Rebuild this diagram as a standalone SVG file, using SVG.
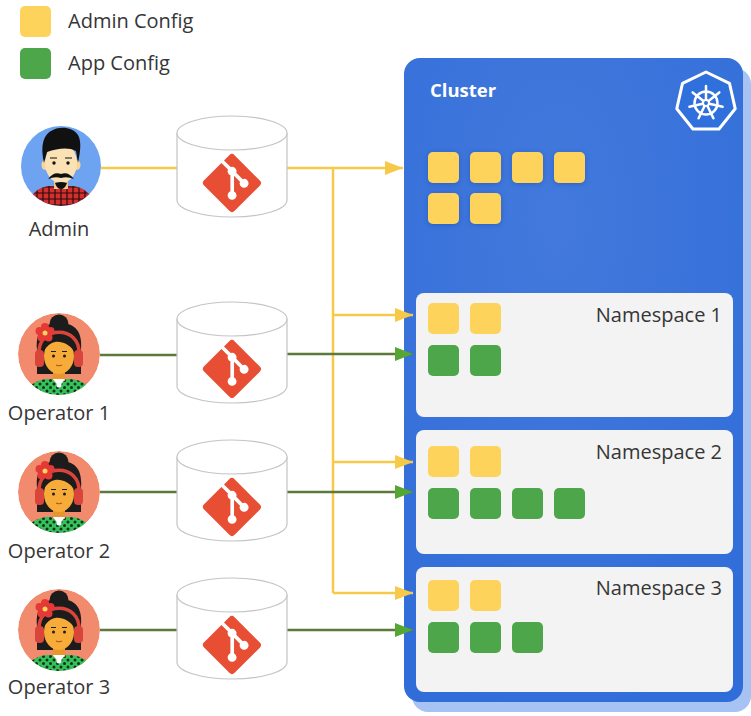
<svg xmlns="http://www.w3.org/2000/svg" width="751" height="716" viewBox="0 0 751 716">
  <style>
    .lbl { font-family: "Open Sans", "Liberation Sans", sans-serif; font-size: 20px; fill: #363636; }
    .title { font-family: "Open Sans", "Liberation Sans", sans-serif; font-size: 18.5px; font-weight: 700; fill: #ffffff; }
    .adm { fill: #fdd35c; }
    .app { fill: #4ea64a; }
    .ns { fill: #f4f3f3; }
    .cyl { fill: #ffffff; stroke: #c4c4c4; stroke-width: 1.2; }
    .git { fill: #e84e34; }
    .yl { stroke: #f7c948; stroke-width: 2.5; fill: none; }
    .gl { stroke: #5b7a3b; stroke-width: 2.5; fill: none; }
  </style>
  <defs>
    <marker id="arrY" markerUnits="userSpaceOnUse" markerWidth="18" markerHeight="14" refX="18" refY="7" orient="auto">
      <path d="M0,0 L18,7 L0,14 Z" fill="#f7c948"/>
    </marker>
    <marker id="arrG" markerUnits="userSpaceOnUse" markerWidth="18" markerHeight="14" refX="18" refY="7" orient="auto">
      <path d="M0,0 L18,7 L0,14 Z" fill="#56a636"/>
    </marker>
    <radialGradient id="clusterFill" cx="0.45" cy="0.25" r="0.8">
      <stop offset="0" stop-color="#4379dc"/>
      <stop offset="1" stop-color="#316dd9"/>
    </radialGradient>
    <filter id="soft" x="-30%" y="-30%" width="160%" height="160%">
      <feDropShadow dx="0" dy="1" stdDeviation="2.5" flood-color="#1c4fb0" flood-opacity="0.6"/>
    </filter>
    <pattern id="plaid" width="6" height="6" patternUnits="userSpaceOnUse">
      <rect width="6" height="6" fill="#d32f2f"/>
      <path d="M0,1 H6 M1,0 V6" stroke="#2a0b0b" stroke-width="1.2"/>
    </pattern>
    <pattern id="dots" width="7" height="7" patternUnits="userSpaceOnUse">
      <rect width="7" height="7" fill="#34c25a"/>
      <circle cx="2" cy="2" r="1.5" fill="#14301c"/>
      <circle cx="5.5" cy="5.5" r="1.5" fill="#14301c"/>
    </pattern>
    <clipPath id="opClip"><circle cx="0" cy="0" r="41"/></clipPath>
    <clipPath id="adminClip"><circle cx="61" cy="166" r="40"/></clipPath>
    <!-- git logo, 92x92 units -->
    <path id="gitMark" d="M90.156 41.965L50.036 1.848a5.918 5.918 0 0 0-8.372 0l-8.328 8.332 10.566 10.566a7.03 7.03 0 0 1 7.23 1.684 7.034 7.034 0 0 1 1.669 7.277l10.187 10.184a7.028 7.028 0 0 1 7.278 1.672 7.04 7.04 0 0 1 0 9.957 7.050 7.050 0 0 1-9.965 0 7.044 7.044 0 0 1-1.528-7.660l-9.5-9.497V59.36a7.04 7.04 0 0 1 1.86 11.29 7.04 7.04 0 0 1-9.957 0 7.04 7.04 0 0 1 0-9.958 7.06 7.06 0 0 1 2.304-1.539V33.926a7.049 7.049 0 0 1-3.82-9.234L29.242 14.272 1.73 41.777a5.925 5.925 0 0 0 0 8.371L41.852 90.27a5.925 5.925 0 0 0 8.37 0l39.934-39.934a5.925 5.925 0 0 0 0-8.371"/>
    <!-- repository cylinder with git mark, top at y=0 -->
    <g id="repo">
      <path class="cyl" d="M177,17 V84 A55,17 0 0 0 287,84 V17"/>
      <ellipse class="cyl" cx="232" cy="17" rx="55" ry="17"/>
      <use href="#gitMark" class="git" transform="translate(203,38) scale(0.63)"/>
    </g>
    <!-- operator avatar, centred on 0,0 -->
    <g id="operatorFace">
      <g clip-path="url(#opClip)">
        <circle cx="0" cy="0" r="41" fill="#f28a6d"/>
        <path d="M-22,-4 C-24,-26 -12,-31 0,-31 C13,-31 24,-26 22,-4 L22,20 L-22,20 Z" fill="#1c1c1c"/>
        <path d="M-38,48 Q-32,27 -12,25 L12,25 Q32,27 38,48 Z" fill="url(#dots)"/>
        <rect x="-6" y="13" width="12" height="14" fill="#e8952d"/>
        <path d="M-6,25 L0,33 L6,25 Z" fill="#ffffff"/>
        <circle cx="0" cy="31" r="2.5" fill="#ffffff"/>
      </g>
      <circle cx="0" cy="-30" r="9.5" fill="#1c1c1c"/>
      <ellipse cx="0" cy="2" rx="15" ry="18" fill="#f7ab38"/>
      <path d="M-16,-2 C-18,-19 -6,-23 6,-21 C14,-19 18,-11 16,-1 C11,-10 3,-13 -4,-12 C-9,-11 -13,-7 -16,-2 Z" fill="#1c1c1c"/>
      <path d="M-20,0 C-22,-29 22,-29 20,0" fill="none" stroke="#d9453a" stroke-width="3.5"/>
      <rect x="-24" y="-4" width="9" height="17" rx="4" fill="#d9453a"/>
      <rect x="15" y="-4" width="9" height="17" rx="4" fill="#d9453a"/>
      <g fill="#e53935">
        <circle cx="-14" cy="-27" r="4"/>
        <circle cx="-8.5" cy="-23" r="4"/>
        <circle cx="-10.5" cy="-16.5" r="4"/>
        <circle cx="-17.5" cy="-16.5" r="4"/>
        <circle cx="-19.5" cy="-23" r="4"/>
      </g>
      <circle cx="-14" cy="-21" r="2.5" fill="#fdd35c"/>
      <circle cx="-5.5" cy="2" r="1.5" fill="#1c1c1c"/>
      <circle cx="5.5" cy="2" r="1.5" fill="#1c1c1c"/>
      <path d="M-8,-2.5 H-3 M3,-2.5 H8" stroke="#1c1c1c" stroke-width="1"/>
      <path d="M-3,11 Q0,12.5 3,11" stroke="#a8551a" stroke-width="1.2" fill="none"/>
    </g>
  </defs>

  <!-- legend -->
  <g id="legend">
    <rect class="adm" x="20" y="6" width="31" height="31" rx="5"/>
    <text class="lbl" x="68" y="28">Admin Config</text>
    <rect class="app" x="20" y="48" width="31" height="31" rx="5"/>
    <text class="lbl" x="68" y="70">App Config</text>
  </g>

  <!-- cluster -->
  <g id="cluster">
    <rect x="412" y="68" width="339" height="644" rx="16" fill="#a6c3f3"/>
    <rect x="404" y="58" width="339" height="644" rx="16" fill="url(#clusterFill)"/>
    <text class="title" x="430" y="97">Cluster</text>
    <g id="k8s-logo">
      <polygon points="706,72 729.5,83.3 735.2,108.7 719,129 693,129 676.8,108.7 682.5,83.3" fill="#3070dc" stroke="#ffffff" stroke-width="3" stroke-linejoin="round"/>
      <g stroke="#ffffff" stroke-width="2.5" stroke-linecap="round" fill="none">
        <circle cx="706" cy="103" r="11.5"/>
        <path d="M706,103 L706,86 M706,103 L719.3,92.4 M706,103 L722.6,106.8 M706,103 L713.4,118.3 M706,103 L698.6,118.3 M706,103 L689.4,106.8 M706,103 L692.7,92.4"/>
      </g>
      <circle cx="706" cy="103" r="3" fill="#3070dc" stroke="#ffffff" stroke-width="2"/>
    </g>
    <g filter="url(#soft)">
      <rect class="adm" x="428" y="152" width="31" height="31" rx="5"/>
      <rect class="adm" x="470" y="152" width="31" height="31" rx="5"/>
      <rect class="adm" x="512" y="152" width="31" height="31" rx="5"/>
      <rect class="adm" x="554" y="152" width="31" height="31" rx="5"/>
      <rect class="adm" x="428" y="193" width="31" height="31" rx="5"/>
      <rect class="adm" x="470" y="193" width="31" height="31" rx="5"/>
    </g>
  </g>

  <g id="namespace-1">
    <rect class="ns" x="416" y="293" width="317" height="124" rx="8"/>
    <text class="lbl" x="722" y="322" text-anchor="end">Namespace 1</text>
    <rect class="adm" x="428" y="303" width="31" height="31" rx="5"/>
    <rect class="adm" x="470" y="303" width="31" height="31" rx="5"/>
    <rect class="app" x="428" y="345" width="31" height="31" rx="5"/>
    <rect class="app" x="470" y="345" width="31" height="31" rx="5"/>
  </g>

  <g id="namespace-2">
    <rect class="ns" x="416" y="430" width="317" height="124" rx="8"/>
    <text class="lbl" x="722" y="459" text-anchor="end">Namespace 2</text>
    <rect class="adm" x="428" y="446" width="31" height="31" rx="5"/>
    <rect class="adm" x="470" y="446" width="31" height="31" rx="5"/>
    <rect class="app" x="428" y="488" width="31" height="31" rx="5"/>
    <rect class="app" x="470" y="488" width="31" height="31" rx="5"/>
    <rect class="app" x="512" y="488" width="31" height="31" rx="5"/>
    <rect class="app" x="554" y="488" width="31" height="31" rx="5"/>
  </g>

  <g id="namespace-3">
    <rect class="ns" x="416" y="567" width="317" height="125" rx="8"/>
    <text class="lbl" x="722" y="595" text-anchor="end">Namespace 3</text>
    <rect class="adm" x="428" y="580" width="31" height="31" rx="5"/>
    <rect class="adm" x="470" y="580" width="31" height="31" rx="5"/>
    <rect class="app" x="428" y="622" width="31" height="31" rx="5"/>
    <rect class="app" x="470" y="622" width="31" height="31" rx="5"/>
    <rect class="app" x="512" y="622" width="31" height="31" rx="5"/>
  </g>

  <!-- connectors -->
  <g id="connectors">
    <path class="yl" d="M101,168 H177"/>
    <path class="yl" d="M287,168 H403" marker-end="url(#arrY)"/>
    <path class="yl" d="M333,168 V593"/>
    <path class="yl" d="M333,315 H413" marker-end="url(#arrY)"/>
    <path class="yl" d="M333,462 H413" marker-end="url(#arrY)"/>
    <path class="yl" d="M333,593 H413" marker-end="url(#arrY)"/>
    <path class="gl" d="M100,355 H177"/>
    <path class="gl" d="M287,354 H413" marker-end="url(#arrG)"/>
    <path class="gl" d="M100,492 H177"/>
    <path class="gl" d="M287,492 H413" marker-end="url(#arrG)"/>
    <path class="gl" d="M100,630 H177"/>
    <path class="gl" d="M287,630 H413" marker-end="url(#arrG)"/>
  </g>

  <!-- repositories -->
  <g id="repo-admin"><use href="#repo" y="116"/></g>
  <g id="repo-operator-1"><use href="#repo" y="302"/></g>
  <g id="repo-operator-2"><use href="#repo" y="440"/></g>
  <g id="repo-operator-3"><use href="#repo" y="578"/></g>

  <!-- people -->
  <g id="admin">
    <circle cx="61" cy="166" r="40" fill="#6ea3f2"/>
    <g clip-path="url(#adminClip)">
      <path d="M26,210 Q30,189 48,186 L74,186 Q92,189 96,210 Z" fill="url(#plaid)"/>
      <rect x="54" y="176" width="14" height="13" fill="#f0c98f"/>
    </g>
    <ellipse cx="45" cy="165" rx="3.5" ry="5" fill="#f6d49c"/>
    <ellipse cx="77" cy="165" rx="3.5" ry="5" fill="#f6d49c"/>
    <ellipse cx="61" cy="163" rx="16" ry="20" fill="#fbe2b4"/>
    <path d="M44,163 C40,146 43,134 53,130 C60,126 73,127 78,135 C82,142 80,153 78,163 L76,151 C69,147 58,148 47,152 Z" fill="#111111"/>
    <circle cx="54" cy="163" r="1.7" fill="#111111"/>
    <circle cx="68" cy="163" r="1.7" fill="#111111"/>
    <path d="M50,158 H57 M65,158 H72" stroke="#111111" stroke-width="1.2"/>
    <path d="M48,179 Q54,171 61,174 Q68,171 74,179 Q67,176 61,178 Q55,176 48,179 Z" fill="#111111"/>
    <path d="M55,183 Q61,181 67,183 Q65,189 61,189 Q57,189 55,183 Z" fill="#111111"/>
    <text class="lbl" x="59" y="236" text-anchor="middle">Admin</text>
  </g>

  <g id="operator-1">
    <use href="#operatorFace" transform="translate(59,354)"/>
    <text class="lbl" x="59" y="420" text-anchor="middle">Operator 1</text>
  </g>
  <g id="operator-2">
    <use href="#operatorFace" transform="translate(59,492)"/>
    <text class="lbl" x="59" y="558" text-anchor="middle">Operator 2</text>
  </g>
  <g id="operator-3">
    <use href="#operatorFace" transform="translate(59,630)"/>
    <text class="lbl" x="59" y="694" text-anchor="middle">Operator 3</text>
  </g>
</svg>
